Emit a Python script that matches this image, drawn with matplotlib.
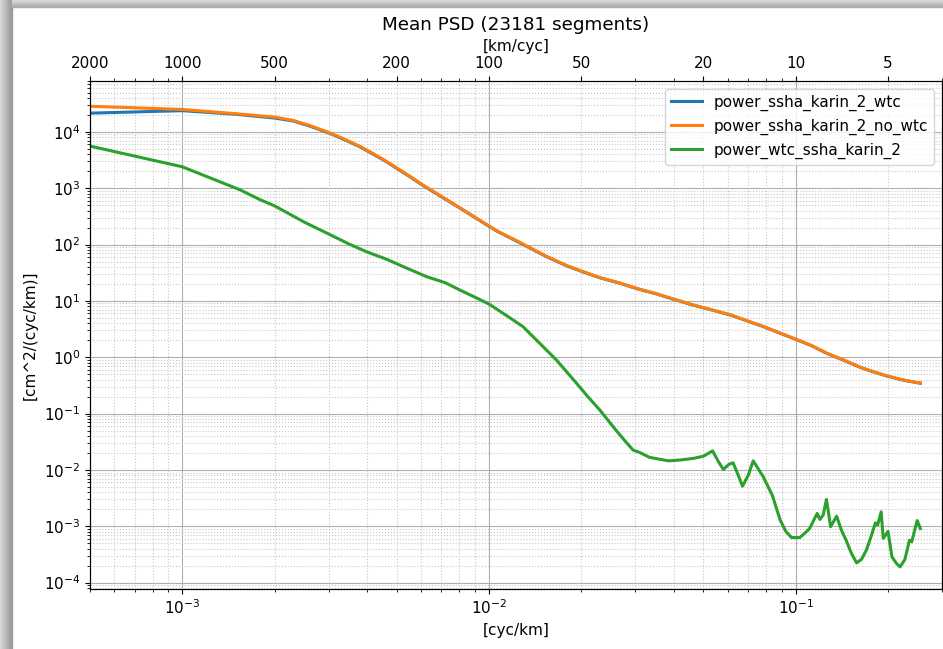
#! /usr/bin/env python

# Mean PSD of karin ssha with / without wet troposphere correction
# log-log spectrum, km/cyc axis on top

import numpy as np
import matplotlib
matplotlib.use("Agg")
import matplotlib.pyplot as plt
from matplotlib.patches import Rectangle

# wavenumber [cyc/km] and power
freq_main = [5.0e-4, 1.0e-3, 1.5e-3, 2.0e-3, 2.3e-3, 2.6e-3, 3.03e-3, 3.4e-3, 3.79e-3,
             4.2e-3, 4.63e-3, 5.1e-3, 5.52e-3, 6.0e-3, 6.58e-3, 7.27e-3, 8.04e-3, 9.1e-3,
             1.0e-2, 1.07e-2, 1.25e-2, 1.54e-2, 1.8e-2, 2.03e-2, 2.3e-2, 2.67e-2, 3.03e-2,
             3.5e-2, 3.99e-2, 4.6e-2, 5.3e-2, 6.1e-2, 6.9e-2, 7.84e-2, 8.8e-2, 0.1,
             0.113, 0.126, 0.143, 0.162, 0.18, 0.198, 0.222, 0.248, 0.255]

power_no_wtc = [2.85e4, 2.5e4, 2.1e4, 1.83e4, 1.6e4, 1.3e4, 9.6e3, 7.3e3, 5.55e3,
                4.1e3, 3.0e3, 2.15e3, 1.63e3, 1.2e3, 880, 630, 450, 295,
                214, 171, 112, 62, 42, 33, 26, 20.8, 16.7,
                13.5, 10.8, 8.6, 7.0, 5.7, 4.5, 3.53, 2.75, 2.1,
                1.6, 1.19, 0.9, 0.67, 0.55, 0.47, 0.4, 0.357, 0.35]

power_wtc = [2.15e4, 2.38e4, 2.05e4, 1.76e4, 1.56e4, 1.27e4, 9.4e3, 7.15e3, 5.45e3,
             4.0e3, 2.95e3, 2.1e3, 1.6e3, 1.18e3, 865, 620, 444, 291,
             211, 169, 110, 61, 41.5, 32.6, 25.7, 20.6, 16.5,
             13.4, 10.7, 8.5, 6.95, 5.65, 4.47, 3.5, 2.73, 2.08,
             1.59, 1.18, 0.89, 0.665, 0.545, 0.465, 0.397, 0.354, 0.347]

freq_wtc = [5.0e-4, 1.0e-3, 1.54e-3, 1.79e-3, 2.0e-3, 2.5e-3, 2.95e-3, 3.5e-3, 4.0e-3,
            4.63e-3, 5.4e-3, 6.25e-3, 7.2e-3, 8.0e-3, 9.1e-3, 1.0e-2, 1.14e-2, 1.29e-2,
            1.45e-2, 1.66e-2, 1.9e-2, 2.1e-2, 2.3e-2, 2.6e-2, 2.8e-2, 2.95e-2, 3.1e-2,
            3.34e-2, 3.6e-2, 3.84e-2, 4.2e-2, 4.63e-2, 5.0e-2, 5.36e-2, 5.6e-2, 5.81e-2,
            6.05e-2, 6.25e-2, 6.5e-2, 6.71e-2, 7.0e-2, 7.27e-2, 7.84e-2, 8.4e-2, 8.9e-2,
            9.3e-2, 9.7e-2, 0.103, 0.107, 0.111, 0.1175, 0.12, 0.123, 0.126, 0.13,
            0.136, 0.141, 0.146, 0.152, 0.158, 0.164, 0.17, 0.176, 0.182, 0.185,
            0.19, 0.193, 0.2, 0.206, 0.213, 0.219, 0.227, 0.235, 0.239, 0.249, 0.255]

power_wtc_only = [5.6e3, 2.4e3, 940, 628, 485, 250, 161, 102, 74,
                  55, 38, 27, 21, 15.8, 11.3, 8.8, 5.5, 3.5,
                  1.86, 0.89, 0.38, 0.2, 0.115, 0.05, 0.031, 0.0225, 0.0204,
                  0.0167, 0.0155, 0.0145, 0.015, 0.016, 0.0175, 0.0218, 0.014, 0.0102,
                  0.0125, 0.0134, 0.008, 0.00515, 0.008, 0.0145, 0.00755, 0.0035, 0.00129,
                  0.0008, 6.3e-4, 6.3e-4, 7.5e-4, 9.1e-4, 1.69e-3, 1.32e-3, 1.6e-3, 2.99e-3, 9.8e-4,
                  1.51e-3, 8.5e-4, 5.66e-4, 3.3e-4, 2.24e-4, 2.6e-4, 3.77e-4, 6.5e-4, 1.15e-3, 1.05e-3,
                  1.8e-3, 6.1e-4, 8.1e-4, 2.86e-4, 2.2e-4, 1.9e-4, 2.57e-4, 5.66e-4, 5.3e-4, 1.26e-3, 9.1e-4]

series_labels = ["power_ssha_karin_2_wtc", "power_ssha_karin_2_no_wtc", "power_wtc_ssha_karin_2"]
km_ticks = [2000, 1000, 500, 200, 100, 50, 20, 10, 5]
n_segments = 23181


if __name__ == "__main__":

    plt.rcParams["font.size"] = 11

    fig = plt.figure(figsize=(9.43, 6.49), dpi=100)

    # grey drop shadow of the screenshot on the left and top edge
    W, H = 943.0, 649.0
    for i in range(12):
        g = 0.85 - 0.022 * i
        fig.patches.append(Rectangle((i / W, 0), 1 / W, 1, transform=fig.transFigure,
                                     color=(g, g, g), zorder=-5))
    for j in range(7):
        g = 0.86 - 0.03 * j
        fig.patches.append(Rectangle((12 / W, 1 - (j + 1) / H), 1, 1 / H,
                                     transform=fig.transFigure, color=(g, g, g), zorder=-5))

    ax = fig.add_axes([90 / W, 60 / H, 852 / W, 508 / H])

    ax.loglog(freq_main, power_wtc, color="C0", lw=2.2, label=series_labels[0])
    ax.loglog(freq_main, power_no_wtc, color="C1", lw=2.2, label=series_labels[1])
    ax.loglog(freq_wtc, power_wtc_only, color="C2", lw=2.2, label=series_labels[2])

    ax.set_xlim(5e-4, 0.3)
    ax.set_ylim(7.7e-5, 8e4)
    ax.grid(which="major", color="#b0b0b0", linestyle="-", lw=0.8)
    ax.grid(which="minor", color="#c8c8c8", linestyle=":", lw=0.8)
    ax.set_xlabel("[cyc/km]")
    ax.set_ylabel("[cm^2/(cyc/km)]")
    ax.legend(loc="upper right")

    # km/cyc axis on top
    ax2 = ax.twiny()
    ax2.set_xscale("log")
    ax2.set_xlim(ax.get_xlim())
    ax2.set_xticks([1.0 / k for k in km_ticks])
    ax2.set_xticklabels([str(k) for k in km_ticks])
    ax2.set_xlabel("[km/cyc]")

    ax.set_title("Mean PSD (%d segments)" % n_segments)

    fig.savefig("out.png", dpi=100)
